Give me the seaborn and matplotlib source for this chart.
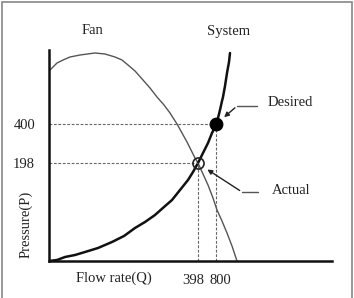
import pandas as pd
import matplotlib
matplotlib.use("Agg")
import matplotlib.pyplot as plt
import seaborn as sns
from matplotlib.patches import Rectangle

# curve points (arbitrary plot units)
fan_q = [0, 4, 8, 14, 21, 31, 46, 56, 66, 73, 79, 86, 94, 101, 108, 115, 121, 128,
         133, 138, 142, 146, 149, 154, 159, 164, 168, 173, 178, 183, 188]
fan_p = [190, 194, 198, 201, 204, 206, 208, 207, 204, 201, 196, 190, 181, 173, 164, 156, 148, 137,
         128, 119, 111, 103, 98, 87, 76, 63, 51, 40, 28, 15, 0]

sys_q = [0, 8, 16, 26, 36, 49, 63, 75, 86, 96, 106, 115, 123, 131, 139, 144, 149,
         153, 159, 163, 167, 169, 171, 173, 174, 176, 178, 180, 181]
sys_p = [0, 1, 4, 6, 9, 13, 19, 25, 33, 39, 46, 54, 61, 71, 81, 89, 98,
         106, 118, 128, 136, 143, 151, 160, 164, 175, 188, 199, 208]

desired = (167, 137)
actual = (149, 98)

y_tick_pos = [137, 98]
y_tick_labels = ["400", "198"]
x_tick_pos = [144.5, 171]
x_tick_labels = ["398", "800"]

sns.set_style("white")
plt.rcParams["font.family"] = ["Liberation Serif", "DejaVu Serif"]

fig = plt.figure(figsize=(3.54, 2.98), dpi=100)
ax = fig.add_axes([49 / 354, 37 / 298, 283 / 354, 211 / 298])

fan_df = pd.DataFrame({"Q": fan_q, "P": fan_p})
sys_df = pd.DataFrame({"Q": sys_q, "P": sys_p})

sns.lineplot(data=fan_df, x="Q", y="P", sort=False, color="#555555", lw=1.0,
             solid_joinstyle="round", ax=ax)
sns.lineplot(data=sys_df, x="Q", y="P", sort=False, color="#111111", lw=1.8,
             solid_joinstyle="round", ax=ax)

# dashed guide lines
dash = dict(color="#666666", lw=0.8, ls=(0, (2.5, 1.5)))
ax.plot([0, desired[0]], [desired[1], desired[1]], **dash)
ax.plot([0, actual[0]], [actual[1], actual[1]], **dash)
ax.plot([desired[0], desired[0]], [0, desired[1]], **dash)
ax.plot([actual[0], actual[0]], [0, actual[1]], **dash)

pts = pd.DataFrame({"Q": [desired[0]], "P": [desired[1]]})
sns.scatterplot(data=pts, x="Q", y="P", s=85, color="black", edgecolor="black", ax=ax, zorder=5)
ax.plot(actual[0], actual[1], "o", ms=8, mfc="none", mec="#222222", mew=1.2, zorder=5)

# leader lines with arrow heads
ax.plot([208, 188], [155, 155], color="#555555", lw=1.0)
ax.annotate("", xy=(173, 142), xytext=(188, 155),
            arrowprops=dict(arrowstyle="-|>", color="#222222", lw=1.0, mutation_scale=7))
ax.plot([209, 193], [69, 69], color="#555555", lw=1.0)
ax.annotate("", xy=(156, 93), xytext=(193, 69),
            arrowprops=dict(arrowstyle="-|>", color="#222222", lw=1.0, mutation_scale=7))

ax.set_xlim(0, 283)
ax.set_ylim(0, 211)
sns.despine(ax=ax)
for s in ["left", "bottom"]:
    ax.spines[s].set_linewidth(1.8)
    ax.spines[s].set_color("#111111")

ax.set_xticks(x_tick_pos)
ax.set_xticklabels(x_tick_labels, fontsize=10.5, color="#222222")
ax.set_yticks(y_tick_pos)
ax.set_yticklabels(y_tick_labels, fontsize=10.5, color="#222222")
ax.tick_params(length=0, pad=10)
ax.tick_params(axis="x", pad=9)
ax.set_xlabel("")
ax.set_ylabel("")

fig.text(114 / 354, 1 - 278 / 298, "Flow rate(Q)", ha="center", va="center", fontsize=10.5, color="#222222")
fig.text(26 / 354, 1 - 224 / 298, "Pressure(P)", ha="center", va="center", rotation=90, fontsize=10.5, color="#222222")
fig.text(92 / 354, 1 - 31 / 298, "Fan", ha="center", va="center", fontsize=10.5, color="#222222")
fig.text(229 / 354, 1 - 31 / 298, "System", ha="center", va="center", fontsize=10.5, color="#222222")
fig.text(290 / 354, 1 - 103 / 298, "Desired", ha="center", va="center", fontsize=10.5, color="#222222")
fig.text(291 / 354, 1 - 191 / 298, "Actual", ha="center", va="center", fontsize=10.5, color="#222222")

# outer frame
fig.patches.append(Rectangle((2 / 354, -0.02), 350 / 354, 1 - 2 / 298 + 0.02,
                             transform=fig.transFigure, fill=False, edgecolor="#888888", lw=1.2))

fig.savefig("out.png", dpi=100)
